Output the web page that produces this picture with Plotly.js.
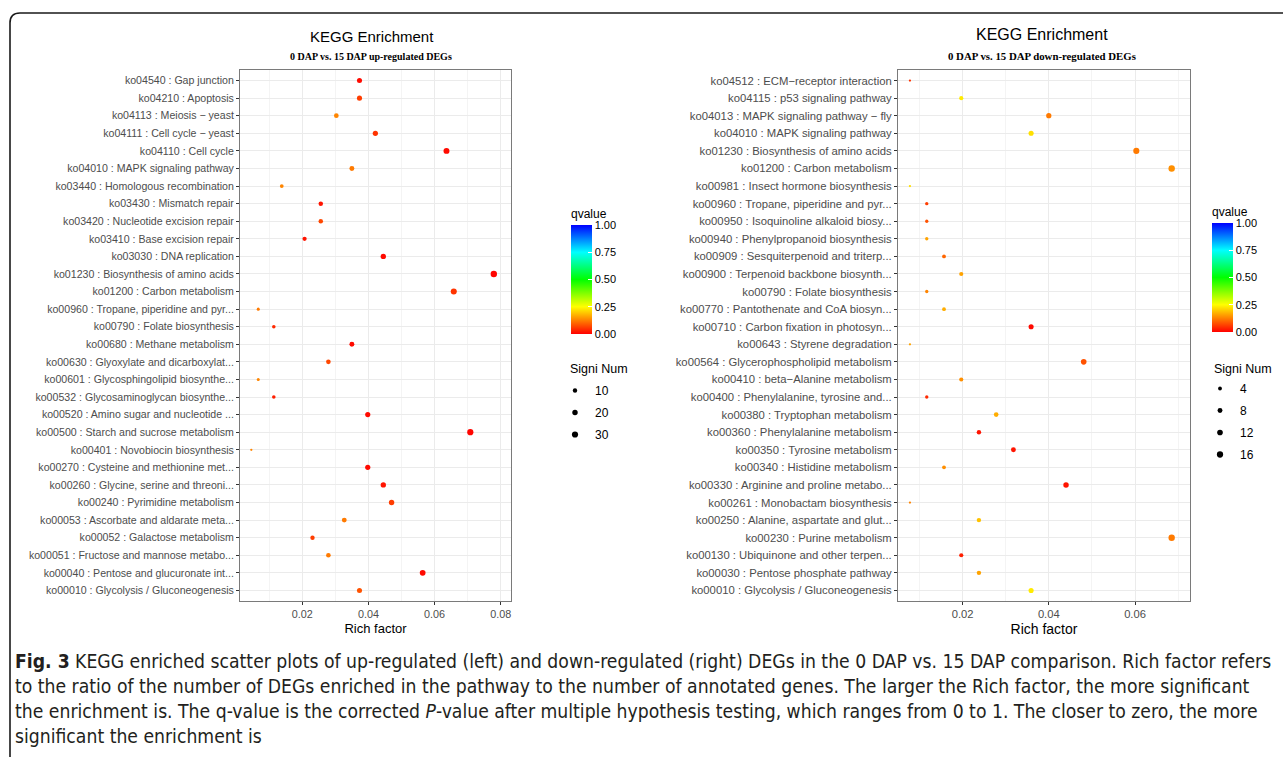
<!DOCTYPE html>
<html>
<head>
<meta charset="utf-8">
<script src="https://cdn.plot.ly/plotly-3.0.1.min.js"></script>
<style>
html,body{margin:0;padding:0;background:#fff;}
#chart{width:1283px;height:757px;}
</style>
</head>
<body>
<div id="chart"></div>
<script>
// ---------- DATA ----------
const upPathways = [
  "ko04540 : Gap junction",
  "ko04210 : Apoptosis",
  "ko04113 : Meiosis \u2212 yeast",
  "ko04111 : Cell cycle \u2212 yeast",
  "ko04110 : Cell cycle",
  "ko04010 : MAPK signaling pathway",
  "ko03440 : Homologous recombination",
  "ko03430 : Mismatch repair",
  "ko03420 : Nucleotide excision repair",
  "ko03410 : Base excision repair",
  "ko03030 : DNA replication",
  "ko01230 : Biosynthesis of amino acids",
  "ko01200 : Carbon metabolism",
  "ko00960 : Tropane, piperidine and pyr...",
  "ko00790 : Folate biosynthesis",
  "ko00680 : Methane metabolism",
  "ko00630 : Glyoxylate and dicarboxylat...",
  "ko00601 : Glycosphingolipid biosynthe...",
  "ko00532 : Glycosaminoglycan biosynthe...",
  "ko00520 : Amino sugar and nucleotide ...",
  "ko00500 : Starch and sucrose metabolism",
  "ko00401 : Novobiocin biosynthesis",
  "ko00270 : Cysteine and methionine met...",
  "ko00260 : Glycine, serine and threoni...",
  "ko00240 : Pyrimidine metabolism",
  "ko00053 : Ascorbate and aldarate meta...",
  "ko00052 : Galactose metabolism",
  "ko00051 : Fructose and mannose metabo...",
  "ko00040 : Pentose and glucuronate int...",
  "ko00010 : Glycolysis / Gluconeogenesis"
];
const upRich = [0.0373,0.0373,0.0303,0.0421,0.0636,0.0350,0.0138,0.0256,0.0256,0.0207,
                0.0445,0.0779,0.0658,0.0067,0.0114,0.0350,0.0279,0.0067,0.0114,0.0398,
                0.0708,0.0046,0.0398,0.0445,0.0470,0.0327,0.0231,0.0279,0.0564,0.0373];
const upCount = [16,16,13,18,27,15,6,11,11,9,19,33,28,3,5,15,12,3,5,17,30,2,17,19,20,14,10,12,24,16];
const upQ = [0.01,0.06,0.13,0.05,0.01,0.12,0.13,0.02,0.07,0.02,
             0.01,0.005,0.05,0.12,0.04,0.01,0.07,0.13,0.03,0.01,
             0.005,0.13,0.01,0.02,0.06,0.12,0.06,0.12,0.01,0.08];

const downPathways = [
  "ko04512 : ECM\u2212receptor interaction",
  "ko04115 : p53 signaling pathway",
  "ko04013 : MAPK signaling pathway \u2212 fly",
  "ko04010 : MAPK signaling pathway",
  "ko01230 : Biosynthesis of amino acids",
  "ko01200 : Carbon metabolism",
  "ko00981 : Insect hormone biosynthesis",
  "ko00960 : Tropane, piperidine and pyr...",
  "ko00950 : Isoquinoline alkaloid biosy...",
  "ko00940 : Phenylpropanoid biosynthesis",
  "ko00909 : Sesquiterpenoid and triterp...",
  "ko00900 : Terpenoid backbone biosynth...",
  "ko00790 : Folate biosynthesis",
  "ko00770 : Pantothenate and CoA biosyn...",
  "ko00710 : Carbon fixation in photosyn...",
  "ko00643 : Styrene degradation",
  "ko00564 : Glycerophospholipid metabolism",
  "ko00410 : beta\u2212Alanine metabolism",
  "ko00400 : Phenylalanine, tyrosine and...",
  "ko00380 : Tryptophan metabolism",
  "ko00360 : Phenylalanine metabolism",
  "ko00350 : Tyrosine metabolism",
  "ko00340 : Histidine metabolism",
  "ko00330 : Arginine and proline metabo...",
  "ko00261 : Monobactam biosynthesis",
  "ko00250 : Alanine, aspartate and glut...",
  "ko00230 : Purine metabolism",
  "ko00130 : Ubiquinone and other terpen...",
  "ko00030 : Pentose phosphate pathway",
  "ko00010 : Glycolysis / Gluconeogenesis"
];
const downRich = [0.0078,0.0197,0.0400,0.0359,0.0603,0.0685,0.0078,0.0117,0.0117,0.0117,
                  0.0157,0.0197,0.0117,0.0157,0.0359,0.0078,0.0481,0.0197,0.0117,0.0278,
                  0.0238,0.0318,0.0157,0.0440,0.0078,0.0238,0.0685,0.0197,0.0238,0.0359];
const downCount = [2,5,10,9,15,17,2,3,3,3,4,5,3,4,9,2,12,5,3,7,6,8,4,11,2,6,17,5,6,9];
const downQ = [0.05,0.23,0.12,0.22,0.12,0.14,0.22,0.06,0.08,0.16,
               0.10,0.16,0.13,0.17,0.01,0.16,0.08,0.14,0.04,0.17,
               0.02,0.02,0.14,0.02,0.13,0.19,0.12,0.03,0.16,0.23];

const upSizeBreaks = [10,20,30];
const downSizeBreaks = [4,8,12,16];
const qTicks = [0,0.25,0.5,0.75,1];
const qTickText = ["0.00","0.25","0.50","0.75","1.00"];
const upXTicks = [0.02,0.04,0.06,0.08];
const downXTicks = [0.02,0.04,0.06];

const titleMain = "KEGG Enrichment";
const upSubtitle = "0 DAP vs. 15 DAP up-regulated DEGs";
const downSubtitle = "0 DAP vs. 15 DAP down-regulated DEGs";
const xTitle = "Rich factor";
const sizeTitle = "Signi Num";
const colorTitle = "qvalue";
const captionLines = [
  "<b>Fig. 3</b> KEGG enriched scatter plots of up-regulated (left) and down-regulated (right) DEGs in the 0 DAP vs. 15 DAP comparison. Rich factor refers",
  "to the ratio of the number of DEGs enriched in the pathway to the number of annotated genes. The larger the Rich factor, the more significant",
  "the enrichment is. The q-value is the corrected <i>P</i>-value after multiple hypothesis testing, which ranges from 0 to 1. The closer to zero, the more",
  "significant the enrichment is"
];

// ---------- STYLE HELPERS ----------
const W = 1283, H = 757;
const px = x => x / W;
const py = y => 1 - y / H;
const SANS = 'Liberation Sans, Arial, sans-serif';
function sizeScale(counts) {
  const mn = Math.min(...counts), mx = Math.max(...counts);
  return n => 2.3 + 4.1 * Math.sqrt(Math.max(0, (n - mn)) / (mx - mn));
}
const upSize = sizeScale(upCount);
const downSize = sizeScale(downCount);
const cscale = [[0,'#ff0000'],[0.25,'#ffff00'],[0.5,'#00ff00'],[0.75,'#00ffff'],[1,'#0000ff']];

function colorbar(xp, ytop) {
  return {
    title: {text: colorTitle, side: 'top', font: {family: SANS, size: 12, color: '#000'}},
    x: px(xp), xanchor: 'left', xpad: 0,
    y: py(ytop), yanchor: 'top', ypad: 0,
    len: 128, lenmode: 'pixels',
    thickness: 21, thicknessmode: 'pixels',
    outlinewidth: 0,
    tickvals: qTicks, ticktext: qTickText,
    ticks: 'inside', ticklen: 4, tickcolor: '#ffffff', tickwidth: 1,
    tickfont: {family: SANS, size: 11, color: '#000'}
  };
}

const traces = [];
traces.push({
  type: 'scatter', mode: 'markers',
  x: upRich, y: upPathways, xaxis: 'x', yaxis: 'y',
  showlegend: false,
  marker: {
    size: upCount.map(upSize), color: upQ, colorscale: cscale, cmin: 0, cmax: 1,
    line: {width: 0}, opacity: 1,
    colorbar: colorbar(571, 206)
  },
  hoverinfo: 'x+y'
});
traces.push({
  type: 'scatter', mode: 'markers',
  x: downRich, y: downPathways, xaxis: 'x2', yaxis: 'y2',
  showlegend: false,
  marker: {
    size: downCount.map(downSize), color: downQ, colorscale: cscale, cmin: 0, cmax: 1,
    line: {width: 0}, opacity: 1,
    colorbar: colorbar(1212, 204)
  },
  hoverinfo: 'x+y'
});
upSizeBreaks.forEach((b, i) => {
  traces.push({type: 'scatter', mode: 'markers', x: [null], y: [null], xaxis: 'x', yaxis: 'y',
    name: String(b), legend: 'legend', legendgroup: 'u' + i, showlegend: true,
    marker: {size: upSize(b), color: '#000'}});
});
downSizeBreaks.forEach((b, i) => {
  traces.push({type: 'scatter', mode: 'markers', x: [null], y: [null], xaxis: 'x2', yaxis: 'y2',
    name: String(b), legend: 'legend2', legendgroup: 'd' + i, showlegend: true,
    marker: {size: downSize(b), color: '#000'}});
});

function xaxis(domain, range, anchor, ticks, fs, tfs) {
  return {
    domain: domain, range: range, anchor: anchor,
    tickvals: ticks, ticktext: ticks.map(v => v.toFixed(2)),
    ticks: 'outside', ticklen: 3, tickcolor: '#333', tickwidth: 1,
    tickfont: {family: SANS, size: fs, color: '#4d4d4d'},
    showgrid: true, gridcolor: '#ebebeb', gridwidth: 1,
    minor: {dtick: 0.01, tick0: 0.01, showgrid: true, gridcolor: '#f4f4f4', gridwidth: 0.6, ticks: ''},
    showline: true, mirror: true, linecolor: '#7a7a7a', linewidth: 1,
    zeroline: false,
    title: {text: xTitle, font: {family: SANS, size: tfs, color: '#000'}, standoff: 4},
    automargin: false, fixedrange: true
  };
}
function yaxis(n, anchor, fs) {
  return {
    domain: [py(601), py(70)], anchor: anchor,
    type: 'category', range: [n - 0.4, -0.6],
    ticks: 'outside', ticklen: 3, tickcolor: '#333', tickwidth: 1,
    tickfont: {family: SANS, size: fs, color: '#4d4d4d'},
    showgrid: true, gridcolor: '#ebebeb', gridwidth: 1,
    showline: true, mirror: true, linecolor: '#7a7a7a', linewidth: 1,
    zeroline: false, automargin: false, fixedrange: true
  };
}

function ann(text, x, y, font, extra) {
  return Object.assign({text: text, x: px(x), y: py(y), xref: 'paper', yref: 'paper', showarrow: false,
    xanchor: 'center', yanchor: 'middle', font: font}, extra || {});
}
const annotations = [
  ann(titleMain, 372, 36, {family: SANS, size: 15, color: '#000'}),
  ann('<b>' + upSubtitle + '</b>', 370.5, 57, {family: 'Liberation Serif, Times New Roman, serif', size: 10, color: '#000'}),
  ann(titleMain, 1042, 35, {family: SANS, size: 16, color: '#000'}),
  ann('<b>' + downSubtitle + '</b>', 1042, 56, {family: 'Liberation Serif, Times New Roman, serif', size: 10.8, color: '#000'}),
  ann(sizeTitle, 568, 369, {family: SANS, size: 12.5, color: '#000'}, {xanchor: 'left'}),
  ann(sizeTitle, 1212, 369, {family: SANS, size: 12.5, color: '#000'}, {xanchor: 'left'}),
  ann(captionLines.join('<br>'), 13, 648, {family: 'Liberation Sans Narrow, DejaVu Sans Condensed, Arial', size: 19.2, color: '#231f20'},
      {xanchor: 'left', yanchor: 'top', align: 'left'})
];

const framePath = 'M ' + px(10) + ' ' + py(770) + ' L ' + px(10) + ' ' + py(23) +
  ' Q ' + px(10) + ' ' + py(13) + ' ' + px(20) + ' ' + py(13) + ' L ' + px(1300) + ' ' + py(13);

const legendCommon = {
  bgcolor: 'rgba(0,0,0,0)', borderwidth: 0,
  font: {family: SANS, size: 12, color: '#000'},
  itemsizing: 'trace', tracegroupgap: 3, xanchor: 'left', yanchor: 'top'
};

const layout = {
  width: W, height: H,
  margin: {l: 0, r: 0, t: 0, b: 0},
  paper_bgcolor: '#fff', plot_bgcolor: '#fff',
  xaxis: xaxis([px(240), px(511)], [0.00118, 0.0831], 'y', upXTicks, 10.8, 13),
  yaxis: yaxis(upPathways.length, 'x', 10.6),
  xaxis2: xaxis([px(898), px(1190)], [0.00503, 0.07275], 'y2', downXTicks, 11.2, 14),
  yaxis2: yaxis(downPathways.length, 'x2', 11.3),
  legend: Object.assign({}, legendCommon, {x: px(555), y: py(376)}),
  legend2: Object.assign({}, legendCommon, {x: px(1200), y: py(374)}),
  annotations: annotations,
  shapes: [{type: 'path', xref: 'paper', yref: 'paper', path: framePath,
            line: {color: '#1a1a1a', width: 1.6}, layer: 'above'}],
  hovermode: 'closest'
};

Plotly.newPlot('chart', traces, layout, {displayModeBar: false});
</script>
</body>
</html>
